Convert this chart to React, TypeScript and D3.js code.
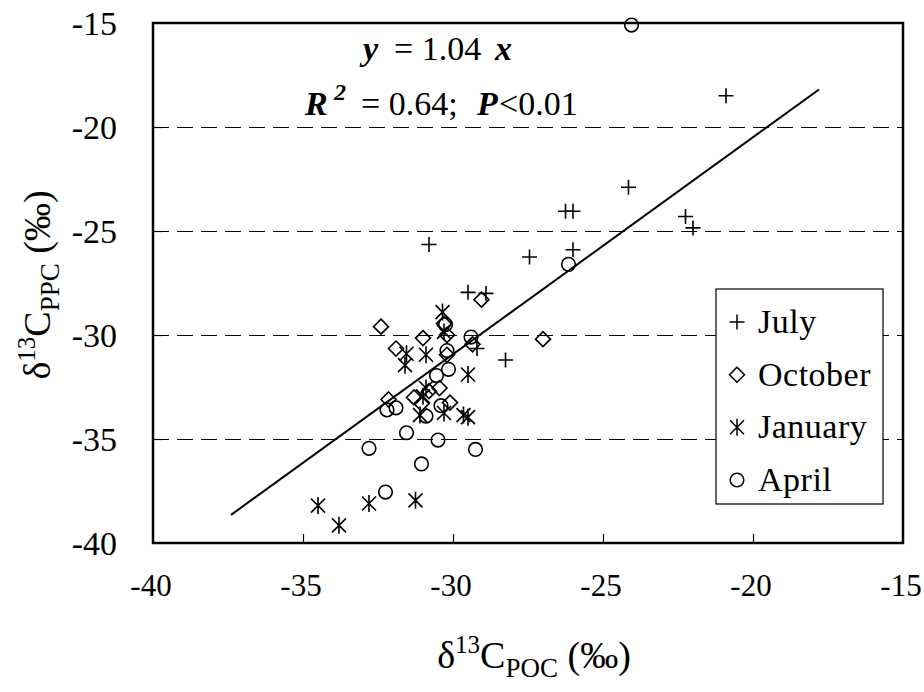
import React, { useEffect, useRef } from 'react';
import * as d3 from 'd3';

// sample months
const seasons = ['July', 'October', 'January', 'April'];

// δ13C POC (x) and δ13C PPC (y)
const julyX = [-20.9, -24.15, -26.25, -26.0, -22.25, -22.0, -27.45, -26.0, -30.8, -29.5, -28.9, -29.2, -28.25];
const julyY = [-18.5, -22.9, -24.05, -24.05, -24.3, -24.85, -26.25, -25.9, -25.65, -27.95, -28.0, -30.65, -31.2];

const octoberX = [-32.4, -31.0, -31.9, -29.05, -30.3, -30.2, -29.35, -27.0, -30.45, -31.3, -30.8, -31.05, -30.1, -32.15, -30.2];
const octoberY = [-29.6, -30.15, -30.65, -28.3, -29.45, -30.0, -30.45, -30.2, -32.55, -33.0, -32.7, -33.3, -33.25, -33.1, -30.95];

const januaryX = [-30.35, -30.3, -31.55, -30.9, -31.6, -29.5, -30.9, -31.0, -31.1, -30.3, -29.65, -29.5, -34.5, -33.8, -32.8, -31.25];
const januaryY = [-28.9, -29.85, -30.9, -30.95, -31.45, -31.9, -32.55, -32.95, -33.85, -33.75, -33.85, -33.95, -38.2, -39.15, -38.1, -37.95];

const aprilX = [-24.05, -26.15, -29.4, -30.25, -30.2, -30.15, -30.55, -30.4, -30.9, -31.9, -32.2, -31.55, -32.8, -30.5, -29.25, -31.05, -32.25];
const aprilY = [-15.1, -26.6, -30.1, -29.5, -30.75, -31.65, -31.95, -33.4, -33.9, -33.5, -33.6, -34.7, -35.45, -35.05, -35.5, -36.2, -37.55];

// regression line y = 1.04x, end points
const fitX = [-37.4, -17.8];
const fitY = [-38.65, -18.2];

const xTicks = [-40, -35, -30, -25, -20, -15];
const yTicks = [-40, -35, -30, -25, -20, -15];
const gridY = [-35, -30, -25, -20];

const seriesX = [julyX, octoberX, januaryX, aprilX];
const seriesY = [julyY, octoberY, januaryY, aprilY];

const font = '"Liberation Serif", "Times New Roman", serif';

function markerPath(kind: number) {
  if (kind === 0) return 'M-7.5,0H7.5M0,-7.5V7.5';
  if (kind === 1) return 'M0,-7.5L7.5,0L0,7.5L-7.5,0Z';
  if (kind === 2) return 'M-7,-7L7,7M-7,7L7,-7M0,-8.5V8.5';
  return d3.symbol().type(d3.symbolCircle).size(Math.PI * 6.8 * 6.8)() as string;
}

export default function App() {
  const svgRef = useRef<SVGSVGElement>(null);

  useEffect(() => {
    const width = 924;
    const height = 692;
    const m = { left: 153, top: 23, right: 903, bottom: 543 };

    const svg = d3.select(svgRef.current)
      .attr('width', width)
      .attr('height', height)
      .style('background', '#fff');
    svg.selectAll('*').remove();

    const x = d3.scaleLinear().domain([-40, -15]).range([m.left, m.right]);
    const y = d3.scaleLinear().domain([-40, -15]).range([m.bottom, m.top]);

    // dashed grid
    svg.append('g')
      .selectAll('line')
      .data(gridY)
      .join('line')
      .attr('x1', m.left)
      .attr('x2', m.right)
      .attr('y1', d => y(d) + 0.5)
      .attr('y2', d => y(d) + 0.5)
      .attr('stroke', '#000')
      .attr('stroke-width', 1)
      .attr('stroke-dasharray', '16,8');

    // axes with inward ticks
    const xAxis = d3.axisBottom(x).tickValues(xTicks.slice(1, -1)).tickSize(-9).tickFormat(() => '');
    const yAxis = d3.axisLeft(y).tickValues(yTicks.slice(1, -1)).tickSize(-9).tickFormat(() => '');
    const gx = svg.append('g').attr('transform', `translate(0,${m.bottom})`).call(xAxis);
    const gy = svg.append('g').attr('transform', `translate(${m.left},0)`).call(yAxis);
    [gx, gy].forEach(g => {
      g.select('.domain').remove();
      g.selectAll('line').attr('stroke', '#000').attr('stroke-width', 1.2);
    });

    // tick labels
    svg.append('g')
      .selectAll('text')
      .data(xTicks)
      .join('text')
      .attr('x', d => x(d) - 2)
      .attr('y', 596)
      .attr('text-anchor', 'middle')
      .style('font-family', font)
      .style('font-size', '31px')
      .text(d => String(d));
    svg.append('g')
      .selectAll('text')
      .data(yTicks)
      .join('text')
      .attr('x', 117)
      .attr('y', d => y(d) + 12)
      .attr('text-anchor', 'end')
      .style('font-family', font)
      .style('font-size', '34px')
      .text(d => String(d));

    // regression line
    const line = d3.line<number>().x(i => x(fitX[i])).y(i => y(fitY[i]));
    svg.append('path')
      .attr('d', line([0, 1]))
      .attr('fill', 'none')
      .attr('stroke', '#000')
      .attr('stroke-width', 2);

    // points
    seriesX.forEach((xs, s) => {
      svg.append('g')
        .selectAll('path')
        .data(xs.map((v, i) => [v, seriesY[s][i]]))
        .join('path')
        .attr('transform', d => `translate(${x(d[0])},${y(d[1])})`)
        .attr('d', markerPath(s))
        .attr('fill', 'none')
        .attr('stroke', '#000')
        .attr('stroke-width', 1.6);
    });

    // frame
    svg.append('rect')
      .attr('x', m.left)
      .attr('y', m.top)
      .attr('width', m.right - m.left)
      .attr('height', m.bottom - m.top)
      .attr('fill', 'none')
      .attr('stroke', '#000')
      .attr('stroke-width', 2.5);

    // legend
    const ly = d3.scalePoint<string>().domain(seasons).range([322, 480]);
    const legend = svg.append('g');
    legend.append('rect')
      .attr('x', 716)
      .attr('y', 289)
      .attr('width', 167)
      .attr('height', 215)
      .attr('fill', '#fff')
      .attr('stroke', '#000')
      .attr('stroke-width', 1.2);
    seasons.forEach((name, s) => {
      legend.append('path')
        .attr('transform', `translate(737,${ly(name)})`)
        .attr('d', markerPath(s))
        .attr('fill', 'none')
        .attr('stroke', '#000')
        .attr('stroke-width', 1.5);
      legend.append('text')
        .attr('x', 758)
        .attr('y', (ly(name) as number) + 11)
        .style('font-family', font)
        .style('font-size', '34px')
        .style('letter-spacing', '0.5px')
        .text(name);
    });

    // equation
    const eq1 = svg.append('text').attr('y', 60).style('font-family', font).style('font-size', '34px');
    eq1.append('tspan').attr('x', 363).style('font-style', 'italic').style('font-weight', 'bold').text('y');
    eq1.append('tspan').attr('x', 394).text('= 1.04');
    eq1.append('tspan').attr('x', 495).style('font-style', 'italic').style('font-weight', 'bold').text('x');

    const eq2 = svg.append('text').attr('y', 115).style('font-family', font).style('font-size', '34px');
    eq2.append('tspan').attr('x', 305).style('font-style', 'italic').style('font-weight', 'bold').text('R');
    eq2.append('tspan').attr('x', 334).attr('dy', -15).style('font-style', 'italic').style('font-weight', 'bold').style('font-size', '24px').text('2');
    eq2.append('tspan').attr('x', 361).attr('dy', 15).text('= 0.64;');
    eq2.append('tspan').attr('x', 477).style('font-style', 'italic').style('font-weight', 'bold').text('P');
    eq2.append('tspan').attr('x', 499).text('<0.01');

    // axis titles
    const xt = svg.append('text')
      .attr('x', 534)
      .attr('y', 668)
      .attr('text-anchor', 'middle')
      .style('font-family', font)
      .style('font-size', '38px');
    xt.append('tspan').text('δ');
    xt.append('tspan').attr('dy', -15).style('font-size', '25px').text('13');
    xt.append('tspan').attr('dy', 15).text('C');
    xt.append('tspan').attr('dy', 9).style('font-size', '27px').text('POC');
    xt.append('tspan').attr('dy', -9).text(' (‰)');

    const yt = svg.append('text')
      .attr('transform', 'translate(50,285) rotate(-90)')
      .attr('text-anchor', 'middle')
      .style('font-family', font)
      .style('font-size', '38px');
    yt.append('tspan').text('δ');
    yt.append('tspan').attr('dy', -15).style('font-size', '25px').text('13');
    yt.append('tspan').attr('dy', 15).text('C');
    yt.append('tspan').attr('dy', 9).style('font-size', '27px').text('PPC');
    yt.append('tspan').attr('dy', -9).text(' (‰)');
  }, []);

  return (
    <div style={{ position: 'absolute', left: 0, top: 0 }}>
      <svg ref={svgRef}></svg>
    </div>
  );
}
